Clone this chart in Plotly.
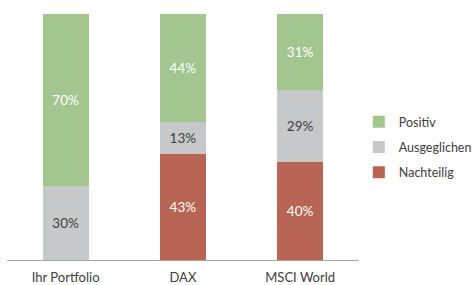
import plotly.graph_objects as go

categories = ["Ihr Portfolio", "DAX", "MSCI World"]
nachteilig = [0, 43, 40]
ausgeglichen = [30, 13, 29]
positiv = [70, 44, 31]

series = [
    ("Nachteilig", nachteilig, "#B86454", "#FFFFFF", 3),
    ("Ausgeglichen", ausgeglichen, "#C7C8CA", "#404040", 2),
    ("Positiv", positiv, "#A3C58F", "#FFFFFF", 1),
]

FONT = "Lato, Carlito, Calibri, sans-serif"

fig = go.Figure()
for name, vals, color, tcolor, rank in series:
    fig.add_trace(go.Bar(
        x=categories, y=vals, name=name, legendgroup=name, legendrank=rank,
        marker=dict(color=color, line=dict(width=0)),
        text=[f"{v}%" if v else "" for v in vals],
        textposition="inside", insidetextanchor="middle",
        textfont=dict(color=tcolor, size=13.5, family=FONT),
        textangle=0,
        hoverinfo="skip",
    ))

fig.update_layout(
    barmode="stack",
    bargap=0.608,
    width=474, height=285,
    margin=dict(l=7, r=107, t=14, b=25),
    paper_bgcolor="white", plot_bgcolor="white",
    font=dict(family=FONT, size=13, color="#404040"),
    legend=dict(
        xref="container", yref="container",
        x=0.757, y=0.484, xanchor="left", yanchor="middle",
        font=dict(size=12.5, color="#404040", family=FONT),
        itemwidth=30, bgcolor="rgba(0,0,0,0)",
        traceorder="grouped", tracegroupgap=6,
    ),
    showlegend=True,
)
fig.update_xaxes(showline=True, linecolor="#A6A6A6", linewidth=1,
                 ticks="outside", ticklen=5, tickcolor="rgba(0,0,0,0)",
                 showgrid=False, zeroline=False, automargin=False,
                 tickfont=dict(size=13, color="#404040"))
fig.update_yaxes(range=[0, 100], visible=False, showgrid=False, zeroline=False)

fig.write_html(
    "out.html",
    config={"displayModeBar": False},
    post_script="document.body.style.margin='0';document.body.style.padding='0';",
)
